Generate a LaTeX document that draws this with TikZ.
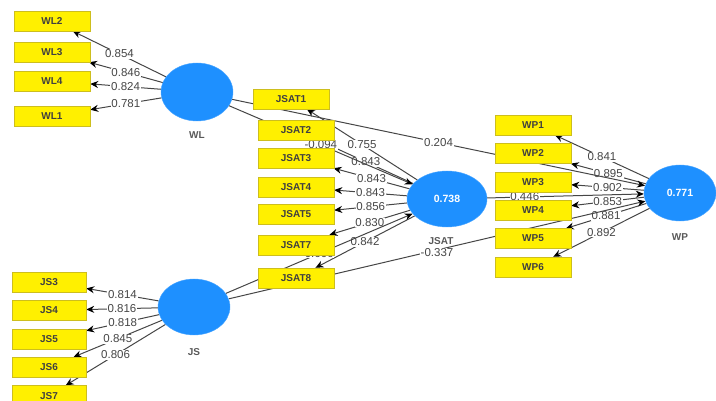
\documentclass[tikz,border=0pt]{standalone}
\usepackage{fontspec}
\setmainfont{Liberation Sans}
\usetikzlibrary{arrows.meta, shapes.geometric, positioning, backgrounds}
\definecolor{plsblue}{RGB}{30,144,255}
\definecolor{plsyellow}{RGB}{255,240,0}
\definecolor{plsedge}{RGB}{205,190,30}
\definecolor{plsgray}{RGB}{70,70,70}

\begin{document}
\begin{tikzpicture}[x=1pt, y=-1pt,
			node distance=8pt,
			ind/.style={draw=plsedge, fill=plsyellow, minimum width=76pt, minimum height=20pt, inner sep=0pt, font=\fontsize{10}{12}\selectfont\bfseries, text=black!75},
			lv/.style={ellipse, draw=plsblue!80, fill=plsblue, minimum width=72pt, minimum height=58pt, inner sep=0pt, font=\fontsize{10.5}{12}\selectfont\bfseries, text=white},
			lvname/.style={font=\fontsize{10}{12}\selectfont\bfseries, text=black!65},
			coef/.style={fill=white, inner sep=0.8pt, font=\fontsize{11.5}{12}\selectfont, text=plsgray},
			arr/.style={-{Stealth[length=8pt, width=7pt, black]}, plsgray, line width=1pt}]
			\useasboundingbox (0,0) rectangle (716,401);
			\node[lv] (WL) at (197,92) {};
			\node[lvname, below=7pt of WL] (WLname) {WL};
			\node[lv, minimum height=56pt] (JS) at (194,307) {};
			\node[lvname, below=10pt of JS] (JSname) {JS};
			\node[lv, minimum width=80pt, minimum height=56pt] (JSAT) at (447,199) {0.738};
			\node[lvname] (JSATname) at (441,241) {JSAT};
			\node[lv, minimum width=72pt, minimum height=56pt] (WP) at (680,193) {0.771};
			\node[lvname, below=9pt of WP] (WPname) {WP};
			\node[ind] (WL2) at (52,21) {WL2};
			\node[ind] (WL3) at (52,52) {WL3};
			\node[ind] (WL4) at (52,81) {WL4};
			\node[ind] (WL1) at (52,116) {WL1};
			\node[ind, minimum width=74pt] (JS3) at (49,282) {JS3};
			\node[ind, minimum width=74pt, below=of JS3] (JS4) {JS4};
			\node[ind, minimum width=74pt, below=of JS4] (JS5) {JS5};
			\node[ind, minimum width=74pt, below=of JS5] (JS6) {JS6};
			\node[ind, minimum width=74pt, below=of JS6] (JS7) {JS7};
			\node[ind] (JSAT1) at (291,99) {JSAT1};
			\node[ind] (JSAT2) at (296,130) {JSAT2};
			\node[ind] (JSAT3) at (296,158) {JSAT3};
			\node[ind] (JSAT4) at (296,187) {JSAT4};
			\node[ind] (JSAT5) at (296,214) {JSAT5};
			\node[ind] (JSAT7) at (296,245) {JSAT7};
			\node[ind] (JSAT8) at (296,278) {JSAT8};
			\node[ind] (WP1) at (533,125) {WP1};
			\node[ind, below=of WP1] (WP2) {WP2};
			\node[ind, below=of WP2] (WP3) {WP3};
			\node[ind, below=of WP3] (WP4) {WP4};
			\node[ind, below=of WP4] (WP5) {WP5};
			\node[ind, below=of WP5] (WP6) {WP6};
			\begin{scope}[on background layer]
				\draw[arr] (WL) -- node[coef] (cWL2) {0.854} (WL2);
				\draw[arr] (WL) -- node[coef] (cWL3) {0.846} (WL3);
				\draw[arr] (WL) -- node[coef] (cWL4) {0.824} (WL4);
				\draw[arr] (WL) -- node[coef] (cWL1) {0.781} (WL1);
				\draw[arr] (JS) -- node[coef] (cJS3) {0.814} (JS3);
				\draw[arr] (JS) -- node[coef] (cJS4) {0.816} (JS4);
				\draw[arr] (JS) -- node[coef] (cJS5) {0.818} (JS5);
				\draw[arr] (JS) -- node[coef] (cJS6) {0.845} (JS6);
				\draw[arr] (JS) -- node[coef] (cJS7) {0.806} (JS7);
				\draw[arr] (JSAT) -- node[coef] (cJSAT1) {0.755} (JSAT1);
				\draw[arr] (JSAT) -- node[coef] (cJSAT2) {0.843} (JSAT2);
				\draw[arr] (JSAT) -- node[coef] (cJSAT3) {0.843} (JSAT3);
				\draw[arr] (JSAT) -- node[coef] (cJSAT4) {0.843} (JSAT4);
				\draw[arr] (JSAT) -- node[coef] (cJSAT5) {0.856} (JSAT5);
				\draw[arr] (JSAT) -- node[coef] (cJSAT7) {0.830} (JSAT7);
				\draw[arr] (JSAT) -- node[coef] (cJSAT8) {0.842} (JSAT8);
				\draw[arr] (WP) -- node[coef] (cWP1) {0.841} (WP1);
				\draw[arr] (WP) -- node[coef] (cWP2) {0.895} (WP2);
				\draw[arr] (WP) -- node[coef] (cWP3) {0.902} (WP3);
				\draw[arr] (WP) -- node[coef] (cWP4) {0.853} (WP4);
				\draw[arr] (WP) -- node[coef] (cWP5) {0.881} (WP5);
				\draw[arr] (WP) -- node[coef] (cWP6) {0.892} (WP6);
				\draw[arr] (WL) -- node[coef] (cWLJSAT) {-0.094} (JSAT);
				\draw[arr] (WL) -- node[coef] (cWLWP) {0.204} (WP);
				\draw[arr] (JS) -- node[coef] (cJSJSAT) {0.606} (JSAT);
				\draw[arr] (JS) -- node[coef, yshift=-3pt] (cJSWP) {-0.337} (WP);
				\draw[arr] (JSAT) -- node[coef, pos=0.24] (cJSATWP) {0.446} (WP);
			\end{scope}
		\end{tikzpicture}
\end{document}
